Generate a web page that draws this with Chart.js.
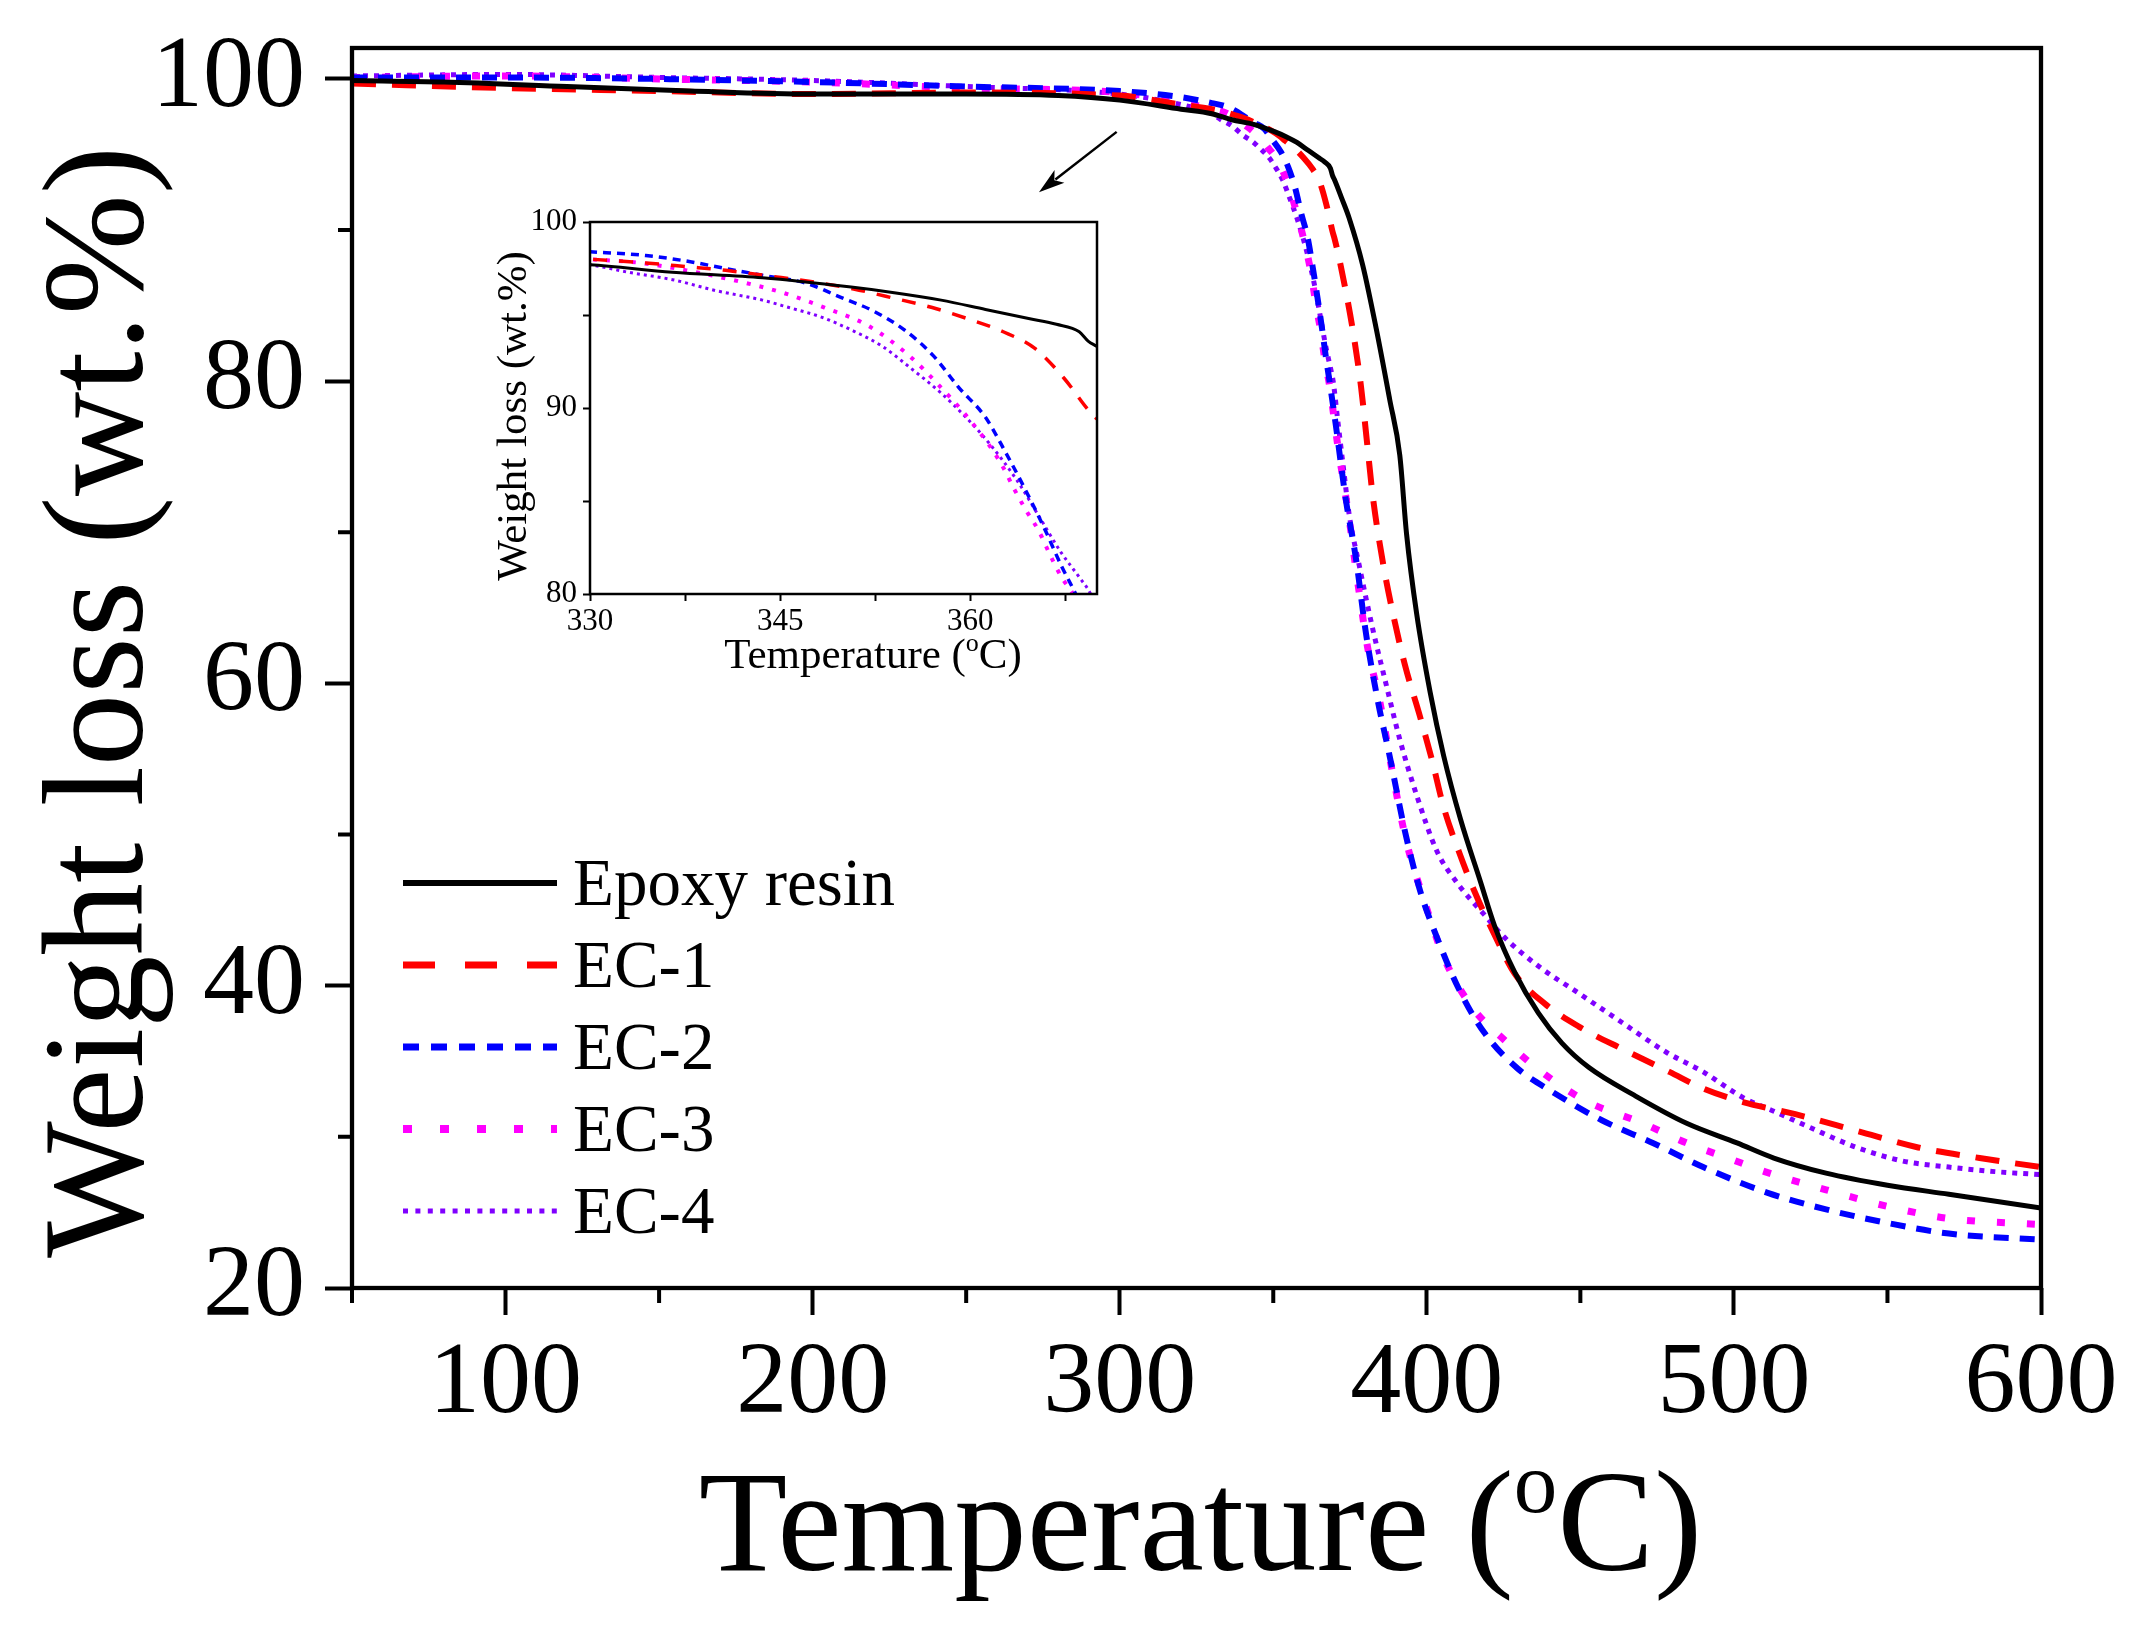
<!DOCTYPE html>
<html lang="en">
<head>
<meta charset="UTF-8">
<title>TGA curves</title>
<script src="https://cdn.jsdelivr.net/npm/chart.js"></script>
<style>
    body { margin: 0; background: #fff; }
    #wrap { position: relative; width: 2147px; height: 1632px; }
    #mainChart { position: absolute; left: 0; top: 0; }
    #insetChart { position: absolute; left: 470px; top: 190px; }
</style>
</head>
<body>
<div id="wrap">
    <canvas id="mainChart" width="2147" height="1632"></canvas>
    <canvas id="insetChart" width="700" height="520"></canvas>
</div>
<script>
// series names, in legend order
var seriesNames = ['Epoxy resin', 'EC-1', 'EC-2', 'EC-3', 'EC-4'];

// temperature (C) and weight (wt.%)
var epoxyT = [50, 80, 120, 160, 200, 250, 280, 300, 320, 330, 336.5, 343.6, 350.6, 354, 357.7, 361.2, 364.7, 366.8, 368.6, 369.3, 370, 372.3, 374.7, 379.1, 383.5, 387.9, 391.2, 393.4, 396.7, 401.1, 405.5, 411, 417.6, 422, 428.6, 436.3, 444, 452.7, 468, 484.6, 501, 513, 530, 550, 570, 600];
var epoxyW = [99.9, 99.8, 99.5, 99.2, 99.0, 99.0, 98.9, 98.6, 98.0, 97.7, 97.3, 97.0, 96.5, 96.2, 95.8, 95.3, 94.8, 94.5, 94.1, 93.6, 93.3, 92.1, 90.8, 87.7, 83.5, 78.8, 75.1, 69.9, 64.6, 59.4, 55.2, 51.0, 46.8, 44.0, 40.9, 38.2, 36.2, 34.6, 32.7, 30.9, 29.6, 28.6, 27.6, 26.8, 26.2, 25.3];

var ec1T = [50, 100, 150, 200, 250, 300, 320, 330, 334.4, 337.6, 340.7, 344.1, 347.4, 350.8, 354, 357, 359.8, 362.6, 365.1, 367.4, 369.3, 370, 372, 375.8, 378.6, 380.4, 382.4, 385.7, 389, 392.9, 397.8, 401.6, 405.5, 410.4, 415.4, 422, 428.6, 438.5, 449.5, 463.8, 479, 490, 503, 520, 540, 560, 580, 600];
var ec1W = [99.7, 99.4, 99.2, 99.0, 99.1, 98.9, 98.3, 98.0, 97.8, 97.6, 97.4, 97.1, 96.8, 96.4, 95.9, 95.4, 94.8, 94.1, 93.2, 91.6, 89.9, 89.4, 87.6, 83.5, 79.6, 76.2, 72.4, 68.0, 64.6, 61.2, 57.8, 55.0, 51.8, 48.9, 46.3, 43.4, 40.8, 38.8, 37.3, 35.8, 34.3, 33.2, 32.3, 31.5, 30.4, 29.3, 28.6, 28.0];

var ec2T = [50, 100, 150, 200, 250, 300, 320, 330, 334.4, 337.6, 340.7, 343.9, 347.1, 349.6, 352.4, 354.8, 357.1, 359.1, 361.2, 362.8, 364.2, 365.8, 367.2, 368.1, 370.3, 373.6, 376.9, 380.2, 384, 387.9, 392.9, 397.8, 403.3, 410.4, 418.7, 429.7, 440.7, 457, 473.6, 490, 511, 530, 550, 570, 600];
var ec2W = [100.1, 100.1, 100.0, 99.8, 99.5, 99.2, 98.8, 98.4, 98.2, 97.9, 97.5, 97.1, 96.7, 96.0, 95.2, 94.2, 92.8, 91.1, 89.5, 87.6, 85.8, 83.6, 81.5, 80.3, 77.2, 72.2, 68.3, 63.3, 58.9, 55.2, 50.2, 46.3, 43.2, 39.8, 36.9, 34.5, 33.0, 31.1, 29.6, 28.0, 26.3, 25.2, 24.3, 23.6, 23.2];

var ec3T = [50, 100, 150, 200, 250, 300, 320, 330, 334, 337.6, 341.8, 345.2, 348.5, 352, 355.2, 357.7, 359.3, 360.5, 361.7, 362.6, 363.5, 364.4, 365.4, 366.3, 367.2, 368.1, 370.9, 374.7, 377.5, 380.8, 384.6, 389, 393.4, 398.9, 405.5, 414.3, 425.3, 437.4, 451.6, 470.3, 484.6, 502, 510, 530, 550, 570, 600];
var ec3W = [100.1, 100.2, 100.0, 99.8, 99.4, 99.1, 98.5, 98.0, 97.8, 97.4, 96.8, 96.2, 95.4, 94.4, 92.8, 91.1, 89.9, 88.9, 87.8, 86.8, 85.6, 84.5, 83.4, 82.1, 80.9, 80.0, 75.9, 70.9, 66.7, 62.3, 58.9, 53.9, 49.5, 45.8, 41.9, 38.7, 36.4, 34.3, 32.4, 30.9, 29.6, 28.3, 27.7, 26.5, 25.4, 24.6, 24.2];

var ec4T = [50, 100, 150, 200, 250, 300, 320, 330, 333, 336.5, 340, 343.6, 345.7, 348.2, 350.6, 353.1, 355.2, 357.7, 359.8, 361.5, 363.7, 365.4, 367.2, 368.6, 369.5, 371, 373, 374.7, 378, 382.4, 386.8, 391.2, 396.7, 403.3, 409.9, 418.7, 425.3, 436.3, 449.5, 462.6, 478, 490, 503, 513, 525, 540, 555, 570, 585, 600];
var ec4W = [100.2, 100.3, 100.1, 99.9, 99.5, 99.0, 98.3, 97.7, 97.3, 96.9, 96.3, 95.8, 95.4, 94.9, 94.2, 93.3, 92.2, 90.8, 89.4, 88.1, 86.1, 84.2, 82.2, 80.9, 80.0, 77.4, 74.0, 71.2, 67.8, 63.6, 59.9, 56.3, 52.6, 48.9, 46.8, 44.7, 43.2, 41.3, 39.5, 37.7, 35.6, 34.3, 32.6, 31.7, 30.6, 29.3, 28.4, 28.0, 27.7, 27.5];

var seriesT = [epoxyT, ec1T, ec2T, ec3T, ec4T];
var seriesW = [epoxyW, ec1W, ec2W, ec3W, ec4W];

// main axes
var xMajorMain = [100, 200, 300, 400, 500, 600];
var xMinorMain = [50, 150, 250, 350, 450, 550];
var yMajorMain = [20, 40, 60, 80, 100];
var yMinorMain = [30, 50, 70, 90];

// inset axes
var xTicksInset = [330, 337.5, 345, 352.5, 360, 367.5];
var xLabelsInset = [330, 345, 360];
var yTicksInset = [80, 85, 90, 95, 100];
var yLabelsInset = [80, 90, 100];

// arrow pointing at the zoomed region, [temperature, weight]
var arrowFrom = [299, 96.5];
var arrowTo = [273.7, 92.5];

var colors = ['#000000', '#ff0000', '#0000ff', '#ff00ff', '#8000ff'];
var mainWidth = [5, 6, 6, 7, 5];
var mainDash = [[], [24, 16], [15, 11], [8, 22], [5, 6]];
var insetWidth = [3, 3.5, 3.5, 4, 3];
var insetDash = [[], [14, 12], [8, 6], [4, 9], [3, 4]];
var legendWidth = [6, 7, 7, 8, 5];
var legendDash = [[], [32, 30], [16, 12], [9, 28], [5, 7.4]];

var SERIF = '"Liberation Serif", "Times New Roman", serif';

function buildDatasets(widths, dashes) {
    return seriesNames.map(function(name, i) {
        return {
            label: name,
            data: seriesT[i].map(function(t, j) { return {x: t, y: seriesW[i][j]}; }),
            borderColor: colors[i],
            borderWidth: widths[i],
            borderDash: dashes[i],
            borderCapStyle: 'butt',
            pointRadius: 0,
            showLine: true,
            fill: false,
            cubicInterpolationMode: 'monotone'
        };
    });
}

function setTicks(list) {
    return function(scale) {
        scale.ticks = list.map(function(v) { return {value: v}; });
    };
}

// "Temperature (oC)" with a raised small o, as in the original
function drawTempTitle(ctx, cx, baseline, size) {
    var a = 'Temperature (', o = 'o', b = 'C)';
    ctx.font = size + 'px ' + SERIF;
    var wa = ctx.measureText(a).width, wb = ctx.measureText(b).width;
    ctx.font = Math.round(size * 0.6) + 'px ' + SERIF;
    var wo = ctx.measureText(o).width;
    var x0 = cx - (wa + wo + wb) / 2;
    ctx.textAlign = 'left';
    ctx.textBaseline = 'alphabetic';
    ctx.font = size + 'px ' + SERIF;
    ctx.fillText(a, x0, baseline);
    ctx.fillText(b, x0 + wa + wo, baseline);
    ctx.font = Math.round(size * 0.6) + 'px ' + SERIF;
    ctx.fillText(o, x0 + wa, baseline - size * 0.4);
}

function drawVerticalTitle(ctx, text, baselineX, cy, size) {
    ctx.save();
    ctx.translate(baselineX, cy);
    ctx.rotate(-Math.PI / 2);
    ctx.font = size + 'px ' + SERIF;
    ctx.textAlign = 'center';
    ctx.textBaseline = 'alphabetic';
    ctx.fillText(text, 0, 0);
    ctx.restore();
}

// frame, minor ticks, arrow, legend and axis titles for the main plot
var mainExtras = {
    id: 'mainExtras',
    afterDraw: function(chart) {
        var ctx = chart.ctx, a = chart.chartArea;
        var xs = chart.scales.x, ys = chart.scales.y;
        ctx.save();
        ctx.strokeStyle = '#000';
        ctx.fillStyle = '#000';
        ctx.lineWidth = 4.3;
        ctx.strokeRect(a.left, a.top, a.right - a.left, a.bottom - a.top);

        ctx.lineWidth = 4;
        ctx.beginPath();
        xMinorMain.forEach(function(v) {
            var px = xs.getPixelForValue(v);
            ctx.moveTo(px, a.bottom);
            ctx.lineTo(px, a.bottom + 15);
        });
        yMinorMain.forEach(function(v) {
            var py = ys.getPixelForValue(v);
            ctx.moveTo(a.left - 14, py);
            ctx.lineTo(a.left, py);
        });
        ctx.stroke();

        // arrow
        var x1 = xs.getPixelForValue(arrowFrom[0]), y1 = ys.getPixelForValue(arrowFrom[1]);
        var x2 = xs.getPixelForValue(arrowTo[0]), y2 = ys.getPixelForValue(arrowTo[1]);
        var ang = Math.atan2(y2 - y1, x2 - x1);
        var hl = 26, hw = 8;
        ctx.lineWidth = 2.5;
        ctx.beginPath();
        ctx.moveTo(x1, y1);
        ctx.lineTo(x2 - Math.cos(ang) * hl * 0.8, y2 - Math.sin(ang) * hl * 0.8);
        ctx.stroke();
        ctx.beginPath();
        ctx.moveTo(x2, y2);
        ctx.lineTo(x2 - Math.cos(ang) * hl - Math.sin(ang) * hw, y2 - Math.sin(ang) * hl + Math.cos(ang) * hw);
        ctx.lineTo(x2 - Math.cos(ang) * hl * 0.75, y2 - Math.sin(ang) * hl * 0.75);
        ctx.lineTo(x2 - Math.cos(ang) * hl + Math.sin(ang) * hw, y2 - Math.sin(ang) * hl - Math.cos(ang) * hw);
        ctx.closePath();
        ctx.fill();

        // legend
        ctx.font = '67px ' + SERIF;
        ctx.textAlign = 'left';
        ctx.textBaseline = 'alphabetic';
        seriesNames.forEach(function(name, i) {
            var rowY = 883 + i * 82;
            ctx.save();
            ctx.strokeStyle = colors[i];
            ctx.lineWidth = legendWidth[i];
            ctx.setLineDash(legendDash[i]);
            ctx.lineCap = 'butt';
            ctx.beginPath();
            ctx.moveTo(403, rowY);
            ctx.lineTo(557, rowY);
            ctx.stroke();
            ctx.restore();
            ctx.fillText(name, 573, rowY + 22);
        });

        // axis titles
        drawTempTitle(ctx, (a.left + a.right) / 2 + 4, 1570, 145);
        drawVerticalTitle(ctx, 'Weight loss (wt.%)', 142, 702, 145);
        ctx.restore();
    }
};

var insetExtras = {
    id: 'insetExtras',
    afterDraw: function(chart) {
        var ctx = chart.ctx, a = chart.chartArea;
        ctx.save();
        ctx.strokeStyle = '#000';
        ctx.fillStyle = '#000';
        ctx.lineWidth = 2.5;
        ctx.strokeRect(a.left, a.top, a.right - a.left, a.bottom - a.top);
        drawTempTitle(ctx, 403, 478, 43);
        drawVerticalTitle(ctx, 'Weight loss (wt.%)', 56, 226, 43);
        ctx.restore();
    }
};

Chart.defaults.font.family = SERIF;
Chart.defaults.color = '#000';

new Chart(document.getElementById('mainChart'), {
    type: 'scatter',
    data: { datasets: buildDatasets(mainWidth, mainDash) },
    options: {
        responsive: false,
        animation: false,
        devicePixelRatio: 1,
        layout: { padding: { top: 48, right: 106, left: 0, bottom: 0 } },
        plugins: { legend: { display: false }, tooltip: { enabled: false } },
        scales: {
            x: {
                type: 'linear',
                min: 50,
                max: 600,
                afterBuildTicks: setTicks(xMajorMain.concat(xMinorMain).sort(function(p, q) { return p - q; })),
                afterFit: function(s) { s.height = 344; s.paddingLeft = 0; s.paddingRight = 0; },
                border: { display: false },
                grid: {
                    drawOnChartArea: false,
                    drawTicks: true,
                    tickLength: 27,
                    tickWidth: 4,
                    tickColor: function(c) { return xMajorMain.indexOf(c.tick.value) >= 0 ? '#000' : 'rgba(0,0,0,0)'; }
                },
                ticks: {
                    autoSkip: false,
                    maxRotation: 0,
                    minRotation: 0,
                    padding: 9,
                    font: { size: 102, family: SERIF },
                    callback: function(v) { return xMajorMain.indexOf(v) >= 0 ? String(v) : ''; }
                }
            },
            y: {
                type: 'linear',
                min: 20,
                max: 102.05,
                afterBuildTicks: setTicks(yMajorMain.concat(yMinorMain).sort(function(p, q) { return p - q; })),
                afterFit: function(s) { s.width = 352; s.paddingTop = 0; s.paddingBottom = 0; },
                border: { display: false },
                grid: {
                    drawOnChartArea: false,
                    drawTicks: true,
                    tickLength: 27,
                    tickWidth: 4,
                    tickColor: function(c) { return yMajorMain.indexOf(c.tick.value) >= 0 ? '#000' : 'rgba(0,0,0,0)'; }
                },
                ticks: {
                    autoSkip: false,
                    padding: 20,
                    font: { size: 102, family: SERIF },
                    callback: function(v) { return yMajorMain.indexOf(v) >= 0 ? String(v) : ''; }
                }
            }
        }
    },
    plugins: [mainExtras]
});

new Chart(document.getElementById('insetChart'), {
    type: 'scatter',
    data: { datasets: buildDatasets(insetWidth, insetDash) },
    options: {
        responsive: false,
        animation: false,
        devicePixelRatio: 1,
        layout: { padding: { top: 32, right: 73, left: 0, bottom: 0 } },
        plugins: { legend: { display: false }, tooltip: { enabled: false } },
        scales: {
            x: {
                type: 'linear',
                min: 330,
                max: 370,
                afterBuildTicks: setTicks(xTicksInset),
                afterFit: function(s) { s.height = 116; s.paddingLeft = 0; s.paddingRight = 0; },
                border: { display: false },
                grid: { drawOnChartArea: false, drawTicks: true, tickLength: 7, tickWidth: 2, tickColor: '#000' },
                ticks: {
                    autoSkip: false,
                    maxRotation: 0,
                    minRotation: 0,
                    padding: 2,
                    font: { size: 31, family: SERIF },
                    callback: function(v) { return xLabelsInset.indexOf(v) >= 0 ? String(v) : ''; }
                }
            },
            y: {
                type: 'linear',
                min: 80,
                max: 100,
                afterBuildTicks: setTicks(yTicksInset),
                afterFit: function(s) { s.width = 120; s.paddingTop = 0; s.paddingBottom = 0; },
                border: { display: false },
                grid: { drawOnChartArea: false, drawTicks: true, tickLength: 7, tickWidth: 2, tickColor: '#000' },
                ticks: {
                    autoSkip: false,
                    padding: 6,
                    font: { size: 31, family: SERIF },
                    callback: function(v) { return yLabelsInset.indexOf(v) >= 0 ? String(v) : ''; }
                }
            }
        }
    },
    plugins: [insetExtras]
});
</script>
</body>
</html>
